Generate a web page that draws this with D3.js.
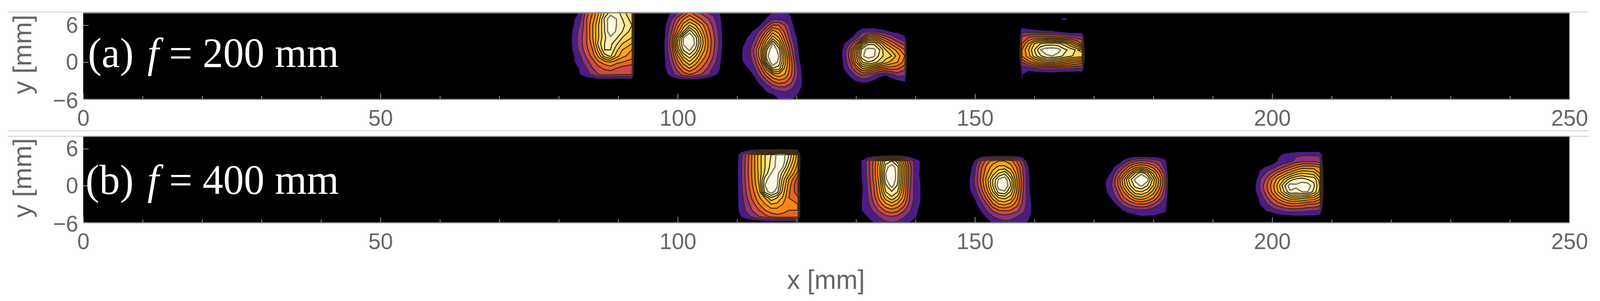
<!DOCTYPE html>
<html>
<head>
<meta charset="utf-8">
<script src="https://cdn.jsdelivr.net/npm/d3@7"></script>
<style>
  body { margin: 0; background: #fff; }
  svg { display: block; }
  text { font-family: "Liberation Sans", Arial, sans-serif; }
</style>
</head>
<body>
<div id="chart"></div>
<script>
// axis ticks (mm)
const xMajor = [0, 50, 100, 150, 200, 250];
const xMinor = [10, 20, 30, 40, 60, 70, 80, 90, 110, 120, 130, 140, 160, 170, 180, 190, 210, 220, 230, 240];
const yMajor = [-6, 0, 6];

// contour levels of the spots and the colour of each band
const levels = [1, 2, 3, 4, 5, 6, 7, 8, 9, 10, 11];
const bandColors = ["#4c1b88", "#8c307f", "#cb484c", "#ea6424", "#fa8612", "#ffa414", "#ffbd2a", "#ffd458", "#ffe78e", "#fff2bb", "#fff8e4"];

// intensity on a mm grid: column positions in *_cols, first row in *_top
const a_cols = [
  [81.7, 82.7, 83.7, 84.7, 85.7, 86.7, 87.7, 88.7, 89.7, 90.7, 92.3, 92.75],
  [97, 98, 99, 100, 101, 102, 103, 104, 105, 106, 107, 108],
  [110, 111, 112, 113, 114, 115, 116, 117, 118, 119, 120, 121, 122],
  [127, 128, 129, 130, 131, 132, 133, 134, 135, 136, 137, 138.2, 138.6],
  [157.4, 157.9, 159, 160, 161, 162, 163, 164, 165, 166, 167, 168, 168.5]
];
const a_top = [9, 9, 9, 6, 8];
const b_cols = [
  [109.7, 110.7, 111.7, 112.7, 113.7, 114.7, 115.7, 116.7, 117.7, 118.7, 120.2, 120.7],
  [130, 131, 132, 133, 134, 135, 136, 137, 138, 139, 140, 141, 142],
  [149, 150, 151, 152, 153, 154, 155, 156, 157, 158, 159, 160],
  [171, 172, 173, 174, 175, 176, 177, 178, 179, 180, 181, 182, 182.7],
  [197, 198, 199, 200, 201, 202, 203, 204, 205, 206, 207, 208, 208.7]
];
const b_top = [6, 5, 5, 5, 6];

const a1 = [
  [0, 0, 1.2, 3, 4.5, 6.5, 8.5, 10, 10, 9, 7.5, 0],
  [0, 0, 1.5, 3.5, 5, 7, 9, 10.5, 10.5, 9.5, 8, 0],
  [0, 1, 2, 4, 5.5, 7.5, 10.3, 11.8, 11, 10, 8.5, 0],
  [0, 1.2, 2.2, 4, 6, 8, 10, 12, 11, 10.3, 9, 0],
  [.3, 1.5, 2.5, 4, 6, 8, 10, 12, 10.8, 10, 8.5, 0],
  [.5, 1.5, 2.7, 4, 6, 8, 9.8, 10.8, 10.2, 9, 8, 0],
  [.5, 1.5, 2.7, 4, 5.5, 8.5, 10, 10.3, 9.2, 8, 7, 0],
  [.4, 1.4, 2.5, 3.7, 5, 7.5, 10, 10, 8.3, 7, 6, 0],
  [.1, 1.1, 2, 3.2, 4.5, 6.3, 8.5, 9.2, 7.5, 6.3, 5.5, 0],
  [0, 1, 1.6, 2.7, 3.5, 4.8, 5.5, 6, 5.3, 5, 4.5, 0],
  [0, .2, 1.4, 2, 3, 3.6, 4.2, 4.5, 4, 3.5, 3.3, 0],
  [0, 0, 1.1, 1.7, 2.2, 3, 3.2, 3.2, 3.1, 3, 3, 0],
  [0, 0, 0, 0, 0, 0, 0, 0, 0, 0, 0, 0]
];
const a2 = [
  [0, 0, 1, 1.6, 2.5, 3.5, 2.7, 2.2, 1.6, 1.3, 1, 0],
  [0, 0, 1.3, 2, 3, 4.3, 3.3, 2.8, 2, 1.7, 1.1, 0],
  [0, .6, 2, 3.5, 5, 6, 5, 4, 3.2, 2.3, 1.3, 0],
  [0, 1, 2.5, 4.5, 6.5, 8, 7, 5.5, 4, 2.7, 1.5, 0],
  [0, 1.1, 3, 5.5, 8, 10.6, 8.7, 6.5, 4.5, 3, 1.7, 0],
  [0, 1.2, 3.6, 7.5, 11, 12.2, 10.4, 7.5, 5, 3.3, 1.8, 0],
  [0, 1.3, 4, 8.3, 11.2, 12.5, 10.7, 7.7, 5.2, 3.3, 1.9, 0],
  [0, 1.3, 3.5, 7.3, 10.2, 11.2, 9.7, 7, 5, 3.2, 1.7, 0],
  [0, 1.2, 3, 5.8, 8.3, 9.6, 8, 6, 4.5, 3, 1.5, 0],
  [0, 1.1, 2.5, 4.7, 6.5, 7.8, 6.5, 5, 3.7, 2.5, 1.3, 0],
  [0, 1, 2, 3.5, 5, 6, 5, 4, 3, 1.8, 1.1, 0],
  [0, .7, 1.6, 2.5, 3.5, 4, 3.6, 3, 2.3, 1.3, .8, 0],
  [0, 0, 0, .1, .2, .3, .2, 0, 0, 0, 0, 0]
];
const a3 = [
  [0, 0, 0, 0, 0, 0, 0, 0, 0, 0, 0, 0, 0],
  [0, 0, 0, 0, 0, .3, 1.1, 1.2, 1.2, .8, 0, 0, 0],
  [0, 0, 0, 0, .3, 1.2, 1.8, 1.8, 1.6, 1.1, 0, 0, 0],
  [0, 0, 0, .1, 1.1, 2.5, 4, 4, 3, 1.6, .2, 0, 0],
  [0, 0, .5, 1.4, 2.5, 4.5, 6.5, 5.5, 3.7, 2, .5, 0, 0],
  [0, .5, 1.2, 2, 3.8, 6.3, 8.5, 7, 4.5, 2.3, 1, 0, 0],
  [0, .9, 1.3, 2.7, 5, 8, 11.2, 8.7, 5.5, 3, 1.2, 0, 0],
  [0, 1.1, 1.6, 3.5, 6, 10, 12, 10.5, 6.5, 3.5, 1.4, 0, 0],
  [0, 1.2, 1.5, 3.3, 6, 10.6, 12.5, 11, 7.5, 4, 1.6, 0, 0],
  [0, 1, 1.3, 2.7, 5, 9.5, 12, 10.7, 7.5, 4.5, 2, .2, 0],
  [0, .4, 1.1, 2, 3.8, 6.5, 10, 9.5, 6.8, 4.5, 2.3, .6, 0],
  [0, 0, .5, 1.3, 2.8, 4.5, 6, 6.7, 6, 4.3, 2.3, .7, 0],
  [0, 0, 0, .7, 1.7, 3, 4.2, 4.8, 4.5, 3.5, 2, .9, 0],
  [0, 0, 0, 0, .8, 1.5, 2.5, 3, 3, 2.5, 1.5, .9, 0],
  [0, 0, 0, 0, 0, .9, 1.2, 1.6, 1.8, 1.5, 1.2, .5, 0],
  [0, 0, 0, 0, 0, 0, .2, 1, 1.1, 1.1, .8, 0, 0],
  [0, 0, 0, 0, 0, 0, 0, 0, 0, 0, 0, 0, 0]
];
const a4 = [
  [0, 0, 0, 0, 0, 0, 0, 0, 0, 0, 0, 0, 0],
  [0, 0, .2, .8, 1.7, 2, 2, 1.5, 1.2, .8, .7, .4, 0],
  [0, .3, .7, 1.6, 3, 5.5, 6, 4.5, 3.5, 2.7, 1.8, 1.2, 0],
  [0, 1, 2.2, 4, 7.5, 9.8, 9.8, 8, 6, 4.7, 3.5, 2.5, 0],
  [0, 1.4, 3.3, 6.5, 10.5, 11.4, 11.3, 10, 8, 6.7, 5.5, 4, 0],
  [0, 1.5, 3.5, 7, 10.8, 11.5, 11.2, 9.6, 8.5, 8, 6.5, 5, 0],
  [0, 1.3, 3, 6, 8.8, 10, 9.5, 8.5, 7.5, 6.5, 6, 4.5, 0],
  [0, 1.1, 2.3, 4, 6, 6.5, 5.5, 4.5, 4.2, 4.5, 4.2, 3.3, 0],
  [0, .4, 1.3, 2.3, 3.2, 3, 2.2, 1.5, 1.2, 1.8, 2.5, 2.2, 0],
  [0, 0, .5, 1.1, 1.5, 1.3, .9, .2, 0, .4, .9, 1.2, 0],
  [0, 0, 0, 0, 0, 0, 0, 0, 0, 0, 0, 0, 0]
];
const a5 = [
  [0, 0, 0, 0, 0, 0, 0, 0, 0, 0, 0, 0, 0],
  [0, 0, 0, 0, 0, 0, 0, .7, 1.25, .7, 0, 0, 0],
  [0, .5, 0, 0, 0, 0, 0, 0, 0, 0, 0, 0, 0],
  [0, 1.7, 1.5, 1.3, 1.2, 1.1, 1.1, .8, .5, .3, .4, .5, 0],
  [0, 3.3, 4, 4.5, 4.7, 4.7, 4.5, 4.2, 3.5, 3, 2.7, 2.5, 0],
  [0, 4, 6, 8, 9, 9.5, 9.5, 9.3, 8.5, 7, 5.5, 4, 0],
  [0, 5, 7, 9, 11, 11.6, 11.7, 11.5, 10.3, 9.7, 8.9, 9.3, 0],
  [0, 5, 6.5, 8.5, 9.8, 10.8, 11, 10.5, 9.8, 9.2, 8.7, 8.5, 0],
  [0, 3, 4.5, 5.5, 6.3, 7, 7, 6.8, 6, 5.5, 5, 4.5, 0],
  [0, 1.3, 1.6, 2, 2.3, 2.5, 2.6, 2.4, 2.2, 2.2, 2, 2, 0],
  [0, 1.1, .2, .1, .1, .2, .2, .1, 0, 0, 0, 0, 0],
  [0, 1, 0, 0, 0, 0, 0, 0, 0, 0, 0, 0, 0],
  [0, 0, 0, 0, 0, 0, 0, 0, 0, 0, 0, 0, 0]
];
const b1 = [
  [0, 0, 0, 0, 0, 0, 0, 0, 0, 0, 0, 0],
  [.1, 1.8, 3.5, 5.5, 7.5, 9, 10, 11.2, 11.5, 10, 6.5, 0],
  [.2, 1.9, 3.6, 5.5, 7.5, 9, 10.2, 11.3, 11.6, 9.5, 6, 0],
  [.3, 1.9, 3.7, 5.5, 7.5, 9, 10.4, 11.3, 11, 8.5, 5.5, 0],
  [.3, 1.9, 3.7, 5.5, 7.3, 9.3, 11, 11.5, 9.5, 7.5, 4.7, 0],
  [.3, 1.9, 3.6, 5.4, 7.3, 10.6, 11.7, 11.4, 8.5, 6, 3.5, 0],
  [.3, 1.8, 3.5, 5.2, 7, 11, 11.8, 11.2, 8, 5.5, 3, 0],
  [.3, 1.7, 3.3, 4.8, 6.5, 10.4, 11.6, 10.5, 7.5, 5.2, 3.3, 0],
  [.4, 1.6, 3, 4.4, 5.8, 7, 8.8, 8, 6.8, 5, 4.2, 0],
  [.5, 1.5, 2.6, 3.7, 5, 6, 7, 6.8, 6, 5, 5, 0],
  [.5, 1.4, 2.3, 3.2, 4, 5, 5.5, 5.6, 5.3, 5, 5, 0],
  [.1, 1.1, 1.7, 2.3, 3, 3.6, 4.4, 4.7, 4.7, 4.7, 4.5, 0],
  [0, 0, 0, 0, 0, 0, 0, 0, 0, 0, 0, 0]
];
const b2 = [
  [0, 0, 0, 0, 0, 0, 0, 0, 0, 0, 0, 0, 0],
  [0, 1.1, 2.5, 4.3, 6.5, 9.5, 10, 8.5, 5.5, 3, 1.5, .8, 0],
  [0, 1.1, 2.5, 4.4, 7, 10.5, 11.8, 10.3, 6.7, 3.5, 1.5, .8, 0],
  [0, 1.05, 2.4, 4.4, 7, 11, 12.3, 10.3, 6.7, 3.5, 1.5, .7, 0],
  [0, 1.05, 2.3, 4.3, 6.7, 10.8, 12.3, 10.2, 6.5, 3.3, 1.5, .8, 0],
  [0, .9, 2.2, 4, 6.3, 9.8, 11.5, 9.8, 6.2, 3.2, 1.5, .9, 0],
  [0, .9, 2.1, 3.8, 6, 9, 9.9, 9, 6, 3.1, 1.5, .9, 0],
  [0, 1, 2, 3.5, 5.5, 7.5, 8.7, 7.5, 5.5, 3, 1.5, .9, 0],
  [0, 1, 1.8, 3, 4.5, 5.8, 6.6, 5.8, 4.5, 2.7, 1.4, .85, 0],
  [0, 1, 1.4, 2.3, 3.3, 4.3, 4.7, 4.3, 3.2, 2.2, 1.2, .7, 0],
  [0, .5, 1.1, 1.5, 2.2, 2.8, 3, 2.8, 2.2, 1.5, 1.1, .3, 0],
  [0, 0, .5, 1, 1.4, 1.8, 2, 1.8, 1.4, 1, .6, 0, 0],
  [0, 0, 0, .5, .9, 1.1, 1.2, 1.1, .9, .4, 0, 0, 0]
];
const b3 = [
  [0, 0, 0, 0, 0, 0, 0, 0, 0, 0, 0, 0],
  [0, 1.1, 3, 4.5, 5.5, 6, 6, 5.5, 4, 2.3, .2, 0],
  [.3, 1.8, 3.7, 5.3, 6.5, 7.3, 7.3, 6.5, 5, 3, 1, 0],
  [.6, 2, 4, 5.8, 7.5, 9, 9.8, 8, 5.7, 3.2, 1.1, 0],
  [.9, 2.2, 4.2, 6.5, 9, 11.2, 11.8, 9.6, 6.2, 3.4, 1.2, 0],
  [.9, 2.1, 4, 6.3, 9, 11.8, 12.2, 10, 6.3, 3.3, 1.2, 0],
  [.7, 1.6, 3.3, 5.5, 8, 10.5, 10.8, 8.8, 6, 3.2, 1.3, 0],
  [.2, 1.1, 2.5, 4.3, 6.3, 8, 8.3, 7.5, 5.3, 3, 1.4, .2],
  [0, .7, 1.7, 3, 4.8, 6, 6.3, 5.7, 4.5, 2.8, 1.5, .4],
  [0, .1, 1.1, 2.1, 3.2, 4, 4.2, 4, 3.3, 2.4, 1.4, .5],
  [0, 0, .4, 1.2, 2, 2.4, 2.6, 2.4, 2.1, 1.6, 1.2, .4],
  [0, 0, 0, .5, 1.1, 1.5, 1.7, 1.7, 1.4, 1.1, .9, .1],
  [0, 0, 0, 0, .5, .8, 1, .9, .8, .5, .2, 0]
];
const b4 = [
  [0, 0, 0, 0, 0, 0, 0, 0, 0, 0, 0, 0, 0],
  [0, 0, 0, .2, 1.2, 2.2, 3, 3.2, 3, 2.7, 2.2, 1.3, 0],
  [0, 0, .6, 1.6, 3, 4.5, 5.7, 6.2, 5.7, 4.7, 3.3, 1.6, 0],
  [0, .3, 1.2, 3, 4.7, 7, 9.3, 10.8, 9.2, 6.8, 4.7, 2.5, 0],
  [0, .9, 1.8, 4, 6.7, 9.5, 11.3, 12.2, 11.5, 8.5, 5.7, 2.8, 0],
  [0, 1, 2, 3.8, 6.3, 8.7, 10.5, 11.2, 10, 8, 5.5, 2.8, 0],
  [0, .8, 1.7, 3, 5, 7, 8.7, 9, 8.2, 6.5, 4.5, 2.3, 0],
  [0, .1, 1.2, 2.3, 3.8, 5, 6.3, 6.7, 6, 5, 3.4, 1.9, 0],
  [0, 0, .3, 1.3, 2.4, 3.2, 3.8, 4, 3.8, 3, 2.1, 1.4, 0],
  [0, 0, 0, .2, 1.1, 1.5, 1.8, 1.9, 1.8, 1.5, 1.3, 1.2, 0],
  [0, 0, 0, 0, .1, .4, .7, .9, .9, .9, .8, .6, 0],
  [0, 0, 0, 0, 0, 0, 0, 0, 0, 0, 0, 0, 0]
];
const b5 = [
  [0, 0, 0, 0, 0, 0, 0, 0, 0, 0, 0, 0, 0],
  [0, 0, 0, 0, .8, 1.2, 1.5, 1.8, 1.9, 1.9, 1.9, 1.9, 0],
  [0, 0, 0, .2, 1.1, 1.3, 1.6, 2.4, 2.7, 2.7, 2.7, 2.5, 0],
  [0, .7, 1.1, 1.6, 2.3, 3.1, 4, 4.8, 5.5, 5.5, 5.5, 5, 0],
  [0, 1.3, 2.2, 3.2, 4.5, 5.5, 6.5, 7.5, 8, 7.8, 7.5, 6, 0],
  [.3, 2, 3.2, 5, 6.5, 8, 9.5, 10.3, 10.6, 10, 9.8, 7.5, 0],
  [.7, 2.2, 3.8, 5.5, 7.5, 9.8, 11.6, 11.2, 11.5, 11.7, 10.2, 8, 0],
  [.6, 2, 3.5, 5.2, 7, 9, 10.8, 10.7, 11, 11, 9.7, 7.7, 0],
  [.3, 1.3, 2.7, 4, 5.3, 6.5, 7.5, 7.5, 7.3, 7, 6.8, 5.5, 0],
  [0, 1.1, 1.8, 2.8, 3.5, 4.2, 4.7, 4.7, 4.5, 4, 4, 3.5, 0],
  [0, .2, 1.1, 1.5, 2, 2.3, 2.5, 2.5, 2.4, 2.2, 2.2, 1.9, 0],
  [0, 0, 0, .1, .5, .6, .7, .8, .8, .8, .8, .6, 0],
  [0, 0, 0, 0, 0, 0, 0, 0, 0, 0, 0, 0, 0]
];

const width = 4192, height = 771;
// the window can come out narrower than asked for, so draw in chart units and fit it
const svg = d3.select("#chart").append("svg")
  .attr("viewBox", `0 0 ${width} ${height}`)
  .attr("preserveAspectRatio", "none")
  .attr("width", window.innerWidth)
  .attr("height", height);

// slight blur, the source is a resampled raster
const defs = svg.append("defs");
defs.append("filter").attr("id", "soft").attr("x", "-5%").attr("y", "-5%").attr("width", "110%").attr("height", "110%")
  .append("feGaussianBlur").attr("stdDeviation", 0.7);

const x = d3.scaleLinear().domain([0, 250]).range([218, 4112]);

function panel(id, top, bottom, spots, spotCols, spotTop, label, labelBase) {
  const y = d3.scaleLinear().domain([-6, 8]).range([bottom, top]);
  const g = svg.append("g").attr("id", id);

  defs.append("clipPath").attr("id", "clip-" + id).append("rect")
    .attr("x", x(0)).attr("y", y(8)).attr("width", x(250) - x(0)).attr("height", y(-6) - y(8));

  g.append("rect")
    .attr("x", x(0)).attr("y", y(8)).attr("width", x(250) - x(0)).attr("height", y(-6) - y(8))
    .attr("fill", "#000");

  const plot = g.append("g").attr("clip-path", "url(#clip-" + id + ")").append("g").attr("filter", "url(#soft)");

  spots.forEach((values, i) => {
    const rows = values.length, cols = values[0].length;
    const grid = d3.contours().size([cols, rows]).thresholds(levels)(values.flat());
    // grid column -> mm, the columns are not all 1 mm apart at the cut edges
    const colX = d3.scaleLinear().domain(d3.range(cols)).range(spotCols[i]);
    const path = d3.geoPath(d3.geoTransform({
      point(gx, gy) {
        this.stream.point(x(colX(gx - 0.5)), y(spotTop[i] - gy + 0.5));
      }
    }));
    plot.append("g").selectAll("path").data(grid).join("path")
      .attr("d", path)
      .attr("fill", (d, k) => bandColors[k])
      .attr("stroke", (d, k) => k == 0 ? "none" : k == 10 ? "#7d776b" : "#3a2d14")
      .attr("stroke-width", (d, k) => k == 10 ? 3.4 : 2.7)
      .attr("stroke-linejoin", "round");
  });

  // frame
  g.append("line").attr("x1", x(0)).attr("x2", x(250)).attr("y1", y(8)).attr("y2", y(8))
    .attr("stroke", "#8c8c8c").attr("stroke-width", 3);
  g.append("line").attr("x1", x(250)).attr("x2", x(250)).attr("y1", y(8)).attr("y2", y(-6))
    .attr("stroke", "#8c8c8c").attr("stroke-width", 2);

  // x axis
  const axisX = g.append("g").attr("transform", `translate(0,${bottom})`);
  axisX.call(d3.axisBottom(x).tickValues(xMajor).tickFormat(d3.format("d")).tickSizeInner(-14).tickSizeOuter(0).tickPadding(27));
  const axisXMinor = g.append("g").attr("transform", `translate(0,${bottom})`);
  axisXMinor.call(d3.axisBottom(x).tickValues(xMinor).tickFormat("").tickSizeInner(-8).tickSizeOuter(0));
  axisXMinor.select(".domain").remove();

  // y axis
  const axisY = g.append("g").attr("transform", `translate(${x(0)},0)`);
  axisY.call(d3.axisLeft(y).tickValues(yMajor).tickFormat(d3.format("d")).tickSizeInner(-14).tickSizeOuter(0).tickPadding(13));
  axisY.select(".domain").remove();
  axisY.selectAll("text").filter(d => d == -6).attr("dy", "0.39em");

  g.selectAll(".domain").attr("stroke", "#858585").attr("stroke-width", 3);
  g.selectAll(".tick line").attr("stroke", "#9a9a9a").attr("stroke-width", 2);
  g.selectAll(".tick text").attr("fill", "#666").attr("font-size", 58).attr("font-family", "'Liberation Sans', Arial, sans-serif");

  // y title
  g.append("text")
    .attr("transform", `translate(82,${(top + bottom) / 2 - 4}) rotate(-90)`)
    .attr("text-anchor", "middle").attr("font-size", 68).attr("fill", "#666")
    .text("y [mm]");

  // panel label
  const t = g.append("text")
    .attr("x", 888).attr("y", labelBase).attr("text-anchor", "end")
    .attr("fill", "#fff").attr("font-size", 108)
    .style("font-family", "'Liberation Serif', 'Times New Roman', serif");
  t.append("tspan").text(label[0] + " ");
  t.append("tspan").attr("font-style", "italic").attr("dx", 9).text("f");
  t.append("tspan").text(" = " + label[1]);
}

// separators around the panels
[31, 335, 349].forEach(v => {
  svg.append("line").attr("x1", 20).attr("x2", 4162).attr("y1", v).attr("y2", v)
    .attr("stroke", "#bdbdbd").attr("stroke-width", 1.5);
});

panel("a", 33, 254, [a1, a2, a3, a4, a5], a_cols, a_top, ["(a)", "200 mm"], 172);
panel("b", 349.5, 570, [b1, b2, b3, b4, b5], b_cols, b_top, ["(b)", "400 mm"], 497.5);

svg.append("text")
  .attr("x", 2164).attr("y", 740).attr("text-anchor", "middle")
  .attr("font-size", 68).attr("fill", "#666")
  .text("x [mm]");
</script>
</body>
</html>
